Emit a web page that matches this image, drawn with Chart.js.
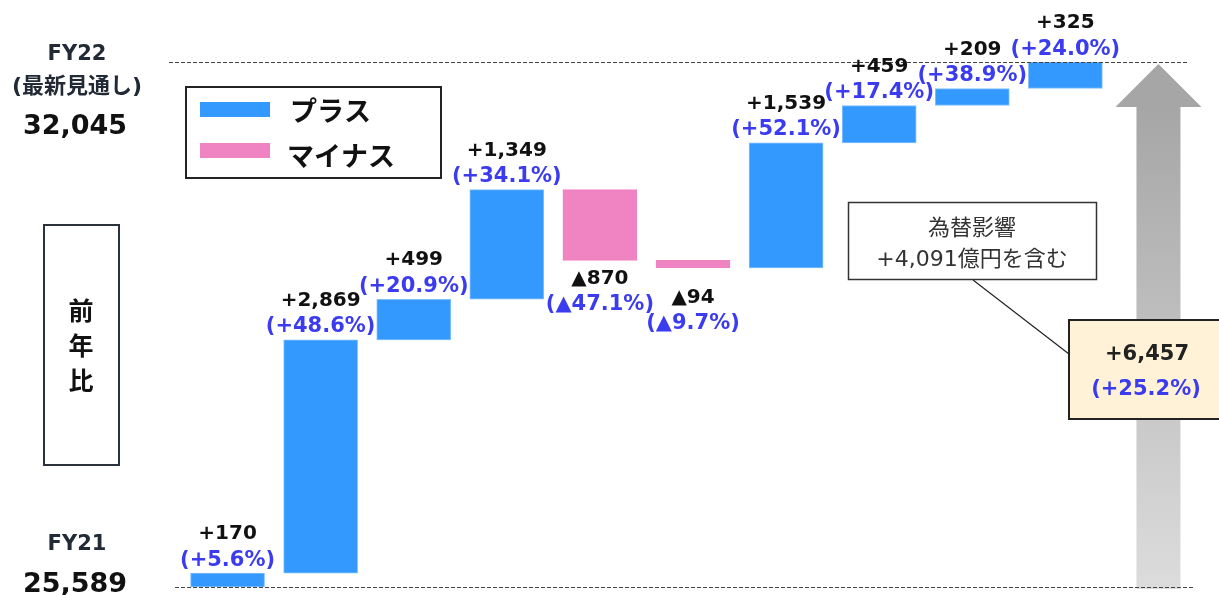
<!DOCTYPE html>
<html lang="ja">
<head>
<meta charset="utf-8">
<title>前年比 ウォーターフォール</title>
<script src="https://cdn.jsdelivr.net/npm/chart.js@4/dist/chart.umd.min.js"></script>
<style>
  html, body { margin: 0; padding: 0; background: #fff; overflow: hidden; }
  #wrap { position: relative; width: 1219px; height: 595px; }
</style>
</head>
<body>
<div id="wrap"><canvas id="waterfall"></canvas></div>
<script>
// Values
const fy21Total = 25589;
const fy22Total = 32045;
const stepNames = ['要因1', '要因2', '要因3', '要因4', '要因5', '要因6', '要因7', '要因8', '要因9', '要因10', '合計'];
const stepDeltas = [170, 2869, 499, 1349, -870, -94, 1539, 459, 209, 325];
const deltaLabels = ['+170', '+2,869', '+499', '+1,349', '▲870', '▲94', '+1,539', '+459', '+209', '+325'];
const pctLabels = ['(+5.6%)', '(+48.6%)', '(+20.9%)', '(+34.1%)', '(▲47.1%)', '(▲9.7%)', '(+52.1%)', '(+17.4%)', '(+38.9%)', '(+24.0%)'];
const totalDeltaLabel = '+6,457';
const totalPctLabel = '(+25.2%)';
const fxNoteLines = ['為替影響', '+4,091億円を含む'];
const legendItems = ['プラス', 'マイナス'];

const BLUE = '#3399ff';
const PINK = '#f083c2';
const LABEL_BLUE = '#3b3bf0';
const NUM_FONT = '"DejaVu Sans", Verdana, "Noto Sans CJK JP", sans-serif';
const JP_FONT = '"Noto Sans CJK JP", "DejaVu Sans", sans-serif';

// build floating [start, end] pairs from the deltas
let running = fy21Total;
const floating = stepDeltas.map(d => {
  const start = running;
  running += d;
  return [start, running];
});
floating.push(null);

const arrowData = stepNames.map((_, i) => (i === stepNames.length - 1 ? [fy21Total, fy22Total] : null));

// draws the gray arrow in place of the total bar
const arrowPlugin = {
  id: 'arrowBar',
  beforeDatasetDraw(chart, args) {
    if (args.index !== 1) return;
    const el = args.meta.data[stepNames.length - 1];
    const ctx = chart.ctx;
    const tipY = el.y + 2;
    const headBase = tipY + 43;
    const headHalf = 43;
    const shaftHalf = el.width / 2;
    ctx.save();
    const grad = ctx.createLinearGradient(0, headBase, 0, el.base);
    grad.addColorStop(0, '#a6a6a6');
    grad.addColorStop(1, '#dcdcdc');
    ctx.fillStyle = grad;
    ctx.fillRect(el.x - shaftHalf, headBase - 1, shaftHalf * 2, el.base - headBase + 3);
    ctx.fillStyle = '#a6a6a6';
    ctx.beginPath();
    ctx.moveTo(el.x, tipY);
    ctx.lineTo(el.x + headHalf, headBase);
    ctx.lineTo(el.x - headHalf, headBase);
    ctx.closePath();
    ctx.fill();
    ctx.restore();
    return false;
  }
};

function text(ctx, str, x, y, font, color, align) {
  ctx.font = font;
  ctx.fillStyle = color;
  ctx.textAlign = align || 'center';
  ctx.textBaseline = 'middle';
  ctx.fillText(str, x, y);
}

// labels, guide lines, legend and callouts
const annotationPlugin = {
  id: 'annotations',
  afterDatasetsDraw(chart) {
    const ctx = chart.ctx;
    const yScale = chart.scales.y;
    const meta = chart.getDatasetMeta(0);
    ctx.save();

    // dashed guide lines at FY21 and FY22 levels
    ctx.strokeStyle = '#444';
    ctx.lineWidth = 1;
    ctx.setLineDash([4, 2]);
    const yTop = Math.round(yScale.getPixelForValue(fy22Total)) + 0.5;
    const yBot = Math.round(yScale.getPixelForValue(fy21Total)) + 0.5;
    ctx.beginPath();
    ctx.moveTo(169, yTop); ctx.lineTo(1187, yTop);
    ctx.moveTo(175, yBot); ctx.lineTo(1193, yBot);
    ctx.stroke();
    ctx.setLineDash([]);

    // bar labels
    stepDeltas.forEach((d, i) => {
      const el = meta.data[i];
      const top = Math.min(el.y, el.base);
      const bottom = Math.max(el.y, el.base);
      if (d >= 0) {
        text(ctx, deltaLabels[i], el.x, top - 39, 'bold 20px ' + NUM_FONT, '#111');
        text(ctx, pctLabels[i], el.x, top - 13, 'bold 21px ' + NUM_FONT, LABEL_BLUE);
      } else {
        const anchor = Math.max(bottom, top + 19);
        text(ctx, deltaLabels[i], el.x, anchor + 18, 'bold 20px ' + NUM_FONT, '#111');
        text(ctx, pctLabels[i], el.x, anchor + 44, 'bold 21px ' + NUM_FONT, LABEL_BLUE);
      }
    });

    // left side totals
    const dark = '#222a35';
    text(ctx, 'FY22', 77, 55, 'bold 21px ' + NUM_FONT, dark);
    text(ctx, '(最新見通し)', 77, 87, 'bold 22px ' + NUM_FONT, dark);
    text(ctx, fy22Total.toLocaleString('en-US'), 75, 127, 'bold 27px ' + NUM_FONT, '#111');
    text(ctx, 'FY21', 77, 545, 'bold 21px ' + NUM_FONT, dark);
    text(ctx, fy21Total.toLocaleString('en-US'), 75, 585, 'bold 27px ' + NUM_FONT, '#111');

    // 前年比 box
    ctx.strokeStyle = '#2b323b';
    ctx.lineWidth = 2;
    ctx.strokeRect(44, 225, 75, 240);
    ['前', '年', '比'].forEach((ch, i) => {
      text(ctx, ch, 81, 310 + i * 35, 'bold 25px ' + JP_FONT, '#111');
    });

    // legend
    ctx.strokeStyle = '#222';
    ctx.lineWidth = 2;
    ctx.strokeRect(186, 87, 255, 91);
    ctx.fillStyle = BLUE;
    ctx.fillRect(200, 102, 70, 15);
    ctx.fillStyle = PINK;
    ctx.fillRect(200, 143, 70, 15);
    text(ctx, legendItems[0], 290, 111, 'bold 27px ' + JP_FONT, '#111', 'left');
    text(ctx, legendItems[1], 287, 156, 'bold 27px ' + JP_FONT, '#111', 'left');

    // FX note callout and leader line
    ctx.strokeStyle = '#222';
    ctx.lineWidth = 1.2;
    ctx.beginPath();
    ctx.moveTo(973, 280);
    ctx.lineTo(1069, 354);
    ctx.stroke();
    ctx.fillStyle = '#fff';
    ctx.fillRect(848, 202, 249, 78);
    ctx.lineWidth = 1.5;
    ctx.strokeStyle = '#333';
    ctx.strokeRect(848.5, 202.5, 248, 77);
    text(ctx, fxNoteLines[0], 972, 227, '22px ' + JP_FONT, '#333');
    text(ctx, fxNoteLines[1], 972, 260, '22px ' + NUM_FONT, '#333');

    // total change box
    ctx.fillStyle = '#fff2d6';
    ctx.fillRect(1068, 320, 160, 99);
    ctx.strokeStyle = '#222';
    ctx.lineWidth = 2;
    ctx.strokeRect(1069, 320, 160, 99);
    text(ctx, totalDeltaLabel, 1147, 355, 'bold 21px ' + NUM_FONT, '#222');
    text(ctx, totalPctLabel, 1146, 390, 'bold 21px ' + NUM_FONT, LABEL_BLUE);

    ctx.restore();
  }
};

new Chart(document.getElementById('waterfall'), {
  type: 'bar',
  data: {
    labels: stepNames,
    datasets: [
      {
        label: '増減',
        data: floating,
        backgroundColor: stepDeltas.map(d => (d >= 0 ? BLUE : PINK)).concat([BLUE]),
        borderColor: stepDeltas.map(d => (d >= 0 ? '#7fc0ff' : PINK)).concat([BLUE]),
        borderWidth: 1,
        borderSkipped: false,
        barThickness: 74,
        grouped: false,
      },
      {
        label: '前年比',
        data: arrowData,
        backgroundColor: '#bbbbbb',
        barThickness: 44,
        grouped: false,
      },
    ],
  },
  options: {
    responsive: true,
    maintainAspectRatio: false,
    animation: false,
    layout: { padding: { left: 181, right: 14, top: 0, bottom: 0 } },
    plugins: {
      legend: { display: false },
      tooltip: { enabled: false },
    },
    scales: {
      x: { display: false },
      y: { display: false, min: 25491, max: 32807 },
    },
  },
  plugins: [arrowPlugin, annotationPlugin],
});
</script>
</body>
</html>
